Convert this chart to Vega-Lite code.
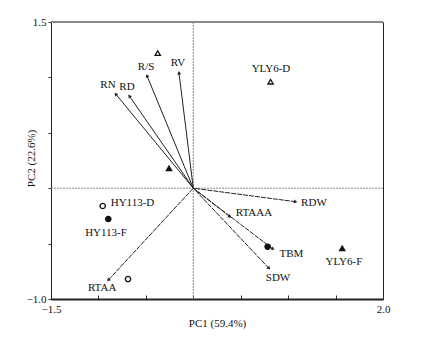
{
  "$schema": "https://vega.github.io/schema/vega-lite/v6.json",
  "width": 332,
  "height": 277,
  "autosize": {"type": "none"},
  "padding": {"left": 51, "top": 22, "right": 38, "bottom": 42},
  "background": "white",
  "config": {
    "view": {"stroke": "#222", "strokeWidth": 1},
    "font": "Liberation Serif",
    "axis": {"labelFont": "Liberation Serif", "titleFont": "Liberation Serif", "labelFontSize": 11, "titleFontSize": 11, "titleFontWeight": "normal", "labelColor": "#111", "titleColor": "#111", "grid": false, "domainColor": "#222", "tickColor": "#333"}
  },
  "datasets": {
    "loadings": [
      {"var": "RN", "x": -0.818, "y": 0.850},
      {"var": "RD", "x": -0.674, "y": 0.832},
      {"var": "R/S", "x": -0.488, "y": 1.015},
      {"var": "RV", "x": -0.151, "y": 1.042},
      {"var": "RDW", "x": 1.079, "y": -0.122},
      {"var": "RTAAA", "x": 0.387, "y": -0.257},
      {"var": "TBM", "x": 0.840, "y": -0.549},
      {"var": "SDW", "x": 0.798, "y": -0.723},
      {"var": "RTAA", "x": -0.896, "y": -0.829}
    ],
    "scores": [
      {"cultivar": "YLY6", "treatment": "D", "x": -0.375, "y": 1.22},
      {"cultivar": "YLY6", "treatment": "D", "x": 0.815, "y": 0.961},
      {"cultivar": "YLY6", "treatment": "F", "x": -0.256, "y": 0.18},
      {"cultivar": "YLY6", "treatment": "F", "x": 1.570, "y": -0.542},
      {"cultivar": "HY113", "treatment": "D", "x": -0.955, "y": -0.161},
      {"cultivar": "HY113", "treatment": "F", "x": -0.896, "y": -0.278},
      {"cultivar": "HY113", "treatment": "D", "x": -0.688, "y": -0.82},
      {"cultivar": "HY113", "treatment": "F", "x": 0.784, "y": -0.528}
    ],
    "labels": [
      {"text": "RN", "x": -0.899, "y": 0.931},
      {"text": "RD", "x": -0.699, "y": 0.913},
      {"text": "R/S", "x": -0.498, "y": 1.094},
      {"text": "RV", "x": -0.161, "y": 1.130},
      {"text": "RDW", "x": 1.272, "y": -0.134},
      {"text": "RTAAA", "x": 0.640, "y": -0.224},
      {"text": "TBM", "x": 1.035, "y": -0.592},
      {"text": "SDW", "x": 0.893, "y": -0.810},
      {"text": "RTAA", "x": -0.961, "y": -0.901},
      {"text": "YLY6-D", "x": 0.819, "y": 1.076},
      {"text": "YLY6-F", "x": 1.588, "y": -0.666},
      {"text": "HY113-D", "x": -0.641, "y": -0.134},
      {"text": "HY113-F", "x": -0.920, "y": -0.404}
    ]
  },
  "layer": [
    {
      "data": {"values": [{}]},
      "mark": {"type": "rule", "color": "#888", "strokeWidth": 1, "strokeDash": [2, 1]},
      "encoding": {"x": {"datum": 0, "type": "quantitative"}}
    },
    {
      "data": {"values": [{}]},
      "mark": {"type": "rule", "color": "#888", "strokeWidth": 1, "strokeDash": [2, 1]},
      "encoding": {"y": {"datum": 0, "type": "quantitative"}}
    },
    {
      "data": {"name": "loadings"},
      "transform": [{"filter": "datum.y > 0"}],
      "mark": {"type": "rule", "color": "#222", "strokeWidth": 1},
      "encoding": {
        "x": {"field": "x", "type": "quantitative",
          "scale": {"domain": [-1.5, 2], "nice": false, "zero": false},
          "axis": {"values": [-1.5, -1, -0.5, 0, 0.5, 1, 1.5, 2], "format": ".1f", "labelExpr": "datum.value == -1.5 || datum.value == 2 ? datum.label : ''", "tickSize": -4, "labelPadding": 8, "domainWidth": 2, "domainColor": "#222", "title": "PC1 (59.4%)", "titleX": 166, "titleY": 24, "titleBaseline": "middle", "titleAnchor": null, "labelFlush": false}},
        "y": {"field": "y", "type": "quantitative",
          "scale": {"domain": [-1, 1.5], "nice": false, "zero": false},
          "axis": {"values": [-1, -0.5, 0, 0.5, 1, 1.5], "format": ".1f", "labelExpr": "datum.value == -1 || datum.value == 1.5 ? datum.label : ''", "tickSize": 3, "labelPadding": 2, "domainWidth": 1, "title": "PC2 (22.6%)", "titleX": -20, "titleY": 136, "titleAngle": -90, "titleAlign": "center", "titleBaseline": "middle", "titleAnchor": null}},
        "x2": {"datum": 0},
        "y2": {"datum": 0}
      }
    },
    {
      "data": {"name": "loadings"},
      "transform": [{"filter": "datum.y < 0"}],
      "mark": {"type": "rule", "color": "#222", "strokeWidth": 1, "strokeDash": [5, 1]},
      "encoding": {
        "x": {"field": "x", "type": "quantitative"},
        "y": {"field": "y", "type": "quantitative"},
        "x2": {"datum": 0},
        "y2": {"datum": 0}
      }
    },
    {
      "data": {"name": "loadings"},
      "transform": [{"calculate": "(360 - atan2(datum.y * 1.168, datum.x) * 180 / PI) % 360", "as": "ang"}],
      "mark": {"type": "point", "shape": "triangle-right", "filled": true, "color": "#222", "size": 16, "opacity": 1},
      "encoding": {
        "x": {"field": "x", "type": "quantitative"},
        "y": {"field": "y", "type": "quantitative"},
        "angle": {"field": "ang", "type": "quantitative", "scale": null}
      }
    },
    {
      "data": {"name": "scores"},
      "mark": {"type": "point", "size": 28, "strokeWidth": 1.3, "stroke": "#111", "opacity": 1},
      "encoding": {
        "x": {"field": "x", "type": "quantitative"},
        "y": {"field": "y", "type": "quantitative"},
        "shape": {"field": "cultivar", "type": "nominal", "scale": {"domain": ["YLY6", "HY113"], "range": ["triangle-up", "circle"]}, "legend": null},
        "fill": {"field": "treatment", "type": "nominal", "scale": {"domain": ["D", "F"], "range": ["#ffffff", "#111111"]}, "legend": null}
      }
    },
    {
      "data": {"name": "labels"},
      "mark": {"type": "text", "font": "Liberation Serif", "fontSize": 11, "color": "#111", "align": "center", "baseline": "middle"},
      "encoding": {
        "x": {"field": "x", "type": "quantitative"},
        "y": {"field": "y", "type": "quantitative"},
        "text": {"field": "text"}
      }
    },
    {
      "data": {"values": [{}]},
      "mark": {"type": "rule", "color": "#888", "strokeWidth": 2},
      "encoding": {"y": {"datum": 1.5, "type": "quantitative"}}
    }
  ]
}
